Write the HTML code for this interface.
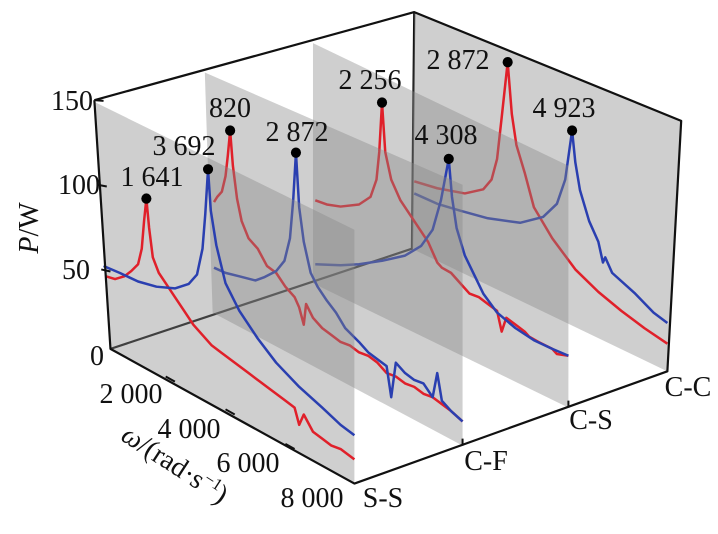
<!DOCTYPE html>
<html><head><meta charset="utf-8"><style>
html,body{margin:0;padding:0;background:#fff}
svg{display:block}
svg text{font-family:'Liberation Serif','DejaVu Serif','Times New Roman',serif}
</style></head><body>
<svg width="718" height="534" viewBox="0 0 718 534" xmlns="http://www.w3.org/2000/svg">
<g transform="scale(0.46026,0.34541)" fill="none" stroke-linejoin="round">
<path vector-effect="non-scaling-stroke" stroke="#111" stroke-width="2.2" d="M900,35 L895,720 L240,1010"/>
<polygon points="900,35 1480,350 1450,1075 895,720" fill="#888" fill-opacity="0.4" stroke="none"/>
<polyline vector-effect="non-scaling-stroke" stroke="#e0202a" stroke-width="2.5" points="900,525 950,545 1010,560 1050,548 1068,520 1080,460 1090,340 1103,180 1112,330 1122,420 1140,500 1160,600 1200,690 1250,780 1300,845 1350,900 1400,950 1450,995"/>
<polyline vector-effect="non-scaling-stroke" stroke="#2a3fb0" stroke-width="2.5" points="900,560 950,590 1000,610 1060,632 1130,645 1180,628 1210,590 1228,520 1243,378 1250,470 1260,550 1280,640 1300,700 1310,760 1315,745 1330,790 1380,850 1420,905 1450,935"/>
<polygon points="680,125 1235,480 1235,1180 680,820" fill="#888" fill-opacity="0.4" stroke="none"/>
<polyline vector-effect="non-scaling-stroke" stroke="#e0202a" stroke-width="2.5" points="685,580 710,592 740,598 780,592 805,570 818,520 824,440 830,297 837,440 850,520 870,580 900,640 930,700 950,760 960,775 980,790 1000,820 1020,850 1040,860 1060,880 1080,900 1090,960 1100,920 1120,940 1140,960 1150,975 1170,990 1200,1010 1210,1025 1235,1030"/>
<polyline vector-effect="non-scaling-stroke" stroke="#2a3fb0" stroke-width="2.5" points="685,765 740,768 780,765 830,755 880,740 915,712 940,665 958,580 975,460 982,570 992,660 1010,740 1050,850 1080,905 1120,950 1160,985 1200,1010 1235,1030"/>
<polygon points="445,210 1005,535 1005,1290 462,905" fill="#888" fill-opacity="0.4" stroke="none"/>
<polyline vector-effect="non-scaling-stroke" stroke="#e0202a" stroke-width="2.5" points="465,585 472,570 482,555 490,510 495,450 500,378 506,480 515,575 525,640 540,690 560,720 580,770 600,790 620,830 640,860 650,890 660,940 665,880 680,920 700,950 720,970 740,990 760,1000 780,1020 800,1030 820,1050 840,1080 860,1090 880,1110 900,1120 920,1140 940,1150 960,1170 980,1190 1005,1220"/>
<polyline vector-effect="non-scaling-stroke" stroke="#2a3fb0" stroke-width="2.5" points="465,775 490,790 520,800 555,812 575,802 600,785 618,755 630,690 637,580 643,442 650,600 660,700 675,790 690,830 710,870 730,905 750,950 780,990 800,1020 820,1040 840,1060 850,1150 860,1050 880,1080 900,1100 920,1110 940,1150 950,1080 960,1160 980,1190 1005,1220"/>
<polygon points="205,295 770,665 770,1400 240,1010" fill="#888" fill-opacity="0.4" stroke="none"/>
<polyline vector-effect="non-scaling-stroke" stroke="#e0202a" stroke-width="2.5" points="230,800 250,808 270,800 285,785 300,765 308,720 313,640 318,575 324,660 332,745 345,790 360,820 380,860 400,900 420,940 440,970 460,1000 480,1020 500,1040 520,1060 540,1080 560,1100 580,1120 600,1140 620,1160 640,1180 650,1230 660,1200 680,1250 700,1270 720,1290 740,1300 770,1330"/>
<polyline vector-effect="non-scaling-stroke" stroke="#2a3fb0" stroke-width="2.5" points="225,770 260,790 300,815 340,830 380,835 410,822 428,795 440,720 446,620 452,490 458,610 470,710 490,820 520,900 560,980 600,1050 650,1120 700,1180 740,1230 770,1260"/>
<path vector-effect="non-scaling-stroke" stroke="#111" stroke-width="2.2" d="M205,290 L900,35 L1480,350 L1450,1075 L770,1400 L240,1010 L205,290"/>
<path vector-effect="non-scaling-stroke" stroke="#111" stroke-width="2" d="M205,290 L225,292 M212,535 L232,540 M220,780 L240,786 M360,1090 L380,1105 M490,1185 L510,1200 M620,1285 L640,1300 M1005,1290 L1005,1270 M1235,1180 L1235,1160"/>
<g fill="#000">
<ellipse cx="318" cy="575" rx="11" ry="15"/>
<ellipse cx="452" cy="490" rx="11" ry="15"/>
<ellipse cx="500" cy="378" rx="11" ry="15"/>
<ellipse cx="643" cy="442" rx="11" ry="15"/>
<ellipse cx="830" cy="297" rx="11" ry="15"/>
<ellipse cx="975" cy="460" rx="11" ry="15"/>
<ellipse cx="1103" cy="180" rx="11" ry="15"/>
<ellipse cx="1243" cy="378" rx="11" ry="15"/>
</g>
</g>
<g font-size="28" fill="#111">
<g text-anchor="middle">
<text x="152" y="186">1 641</text>
<text x="184" y="155">3 692</text>
<text x="230" y="117">820</text>
<text x="297" y="141">2 872</text>
<text x="370" y="89">2 256</text>
<text x="446" y="144">4 308</text>
<text x="458" y="69">2 872</text>
<text x="564" y="117">4 923</text>
</g>
<g text-anchor="end">
<text x="93" y="110">150</text>
<text x="100" y="194">100</text>
<text x="90" y="279">50</text>
<text x="104" y="365">0</text>
</g>
<text transform="translate(38,228) rotate(-90)" text-anchor="middle"><tspan font-style="italic">P</tspan>/W</text>
<g text-anchor="middle">
<text x="131" y="403">2 000</text>
<text x="189" y="438">4 000</text>
<text x="248" y="472">6 000</text>
<text x="312" y="507">8 000</text>
<text x="383" y="507">S-S</text>
<text x="486" y="470">C-F</text>
<text x="591" y="429">C-S</text>
<text x="688" y="396">C-C</text>
</g>
<text transform="translate(170,472) rotate(33)" text-anchor="middle"><tspan font-style="italic">ω</tspan>/(rad·s<tspan font-size="17" dy="-10">−1</tspan><tspan dy="10">)</tspan></text>
</g>
</svg>
</body></html>
